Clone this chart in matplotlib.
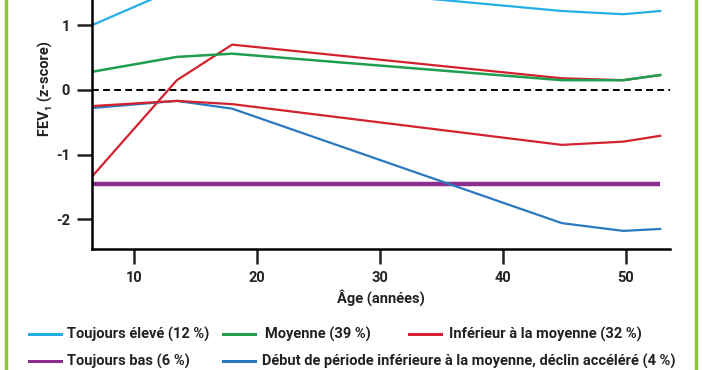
import numpy as np
import matplotlib
matplotlib.use("Agg")
import matplotlib.pyplot as plt
from matplotlib.lines import Line2D

plt.rcParams['font.family'] = ['Roboto', 'DejaVu Sans']

# Données
ages = [6.6, 13.5, 18, 44.8, 49.8, 52.8]
toujours_eleve = [1.00, 1.57, 1.69, 1.22, 1.17, 1.22]
moyenne = [0.28, 0.51, 0.56, 0.15, 0.15, 0.23]
inferieur = [-0.25, -0.17, -0.22, -0.85, -0.80, -0.71]
croissance_tardive = [-1.34, 0.15, 0.70, 0.18, 0.15, 0.23]
toujours_bas = [-1.45, -1.45, -1.45, -1.45, -1.45, -1.45]
declin = [-0.28, -0.17, -0.29, -2.06, -2.18, -2.15]

couleurs = {
    "eleve": "#23aee5",
    "moyenne": "#1f9e4f",
    "inferieur": "#d3222e",
    "bas": "#8b2d8e",
    "declin": "#2a78bf",
}

labels = ["Toujours élevé (12 %)", "Moyenne (39 %)", "Inférieur à la moyenne (32 %)",
          "Toujours bas (6 %)", "Début de période inférieure à la moyenne, déclin accéléré (4 %)"]

fig = plt.figure(figsize=(7.02, 3.70), dpi=100)
ax = fig.add_axes([92 / 702, 121 / 370, 578 / 702, 249 / 370])

ax.axhline(0, color="black", linestyle=(0, (3.5, 2.2)), linewidth=1.4, zorder=1)
ax.plot(ages, toujours_bas, color=couleurs["bas"], linewidth=3.2, solid_capstyle="butt")
ax.plot(ages, croissance_tardive, color=couleurs["inferieur"], linewidth=1.6)
ax.plot(ages, declin, color=couleurs["declin"], linewidth=1.6)
ax.plot(ages, inferieur, color=couleurs["inferieur"], linewidth=1.6)
ax.plot(ages, moyenne, color=couleurs["moyenne"], linewidth=1.8)
ax.plot(ages, toujours_eleve, color=couleurs["eleve"], linewidth=1.6)

ax.set_xlim(6.6, 53.6)
ax.set_ylim(-2.46, 1.39)
ax.set_xticks([10, 20, 30, 40, 50])
ax.set_yticks([-2, -1, 0, 1])
ax.set_yticklabels(["-2", "-1", "0", "1"])
for s in ["top", "right"]:
    ax.spines[s].set_visible(False)
for s in ["left", "bottom"]:
    ax.spines[s].set_linewidth(1.8)
ax.tick_params(length=11, width=1.8, labelsize=10.5, pad=5, colors="#222222")
for lab in ax.get_xticklabels() + ax.get_yticklabels():
    lab.set_fontweight("bold")

ax.set_xlabel("Âge (années)", fontsize=10.5, fontweight="bold", color="#222222", labelpad=3)
fig.text(45 / 702, 1 - 89 / 370, "FEV\u2081 (z-score)", rotation=90, ha="center", va="center",
         fontsize=10.5, fontweight="bold", color="#222222")

# légende manuelle
entrees = [
    (29, 334, couleurs["eleve"], labels[0], 67),
    (223, 334, couleurs["moyenne"], labels[1], 265),
    (409, 334, couleurs["inferieur"], labels[2], 449),
    (29, 361, couleurs["bas"], labels[3], 67),
    (223, 361, couleurs["declin"], labels[4], 262),
]
for x0, y0, c, txt, xt in entrees:
    yf = 1 - y0 / 370
    fig.add_artist(Line2D([x0 / 702, (x0 + 32) / 702], [yf, yf], color=c, linewidth=2.2,
                          transform=fig.transFigure))
    fig.text(xt / 702, yf, txt, ha="left", va="center", fontsize=10.5, fontweight="bold",
             color="#222222")

# cadre vert
for xb in [5.5, 695.5]:
    fig.add_artist(Line2D([xb / 702, xb / 702], [0, 1], color="#8cc63f", linewidth=2.5,
                          transform=fig.transFigure))

fig.savefig("out.png", dpi=100)
